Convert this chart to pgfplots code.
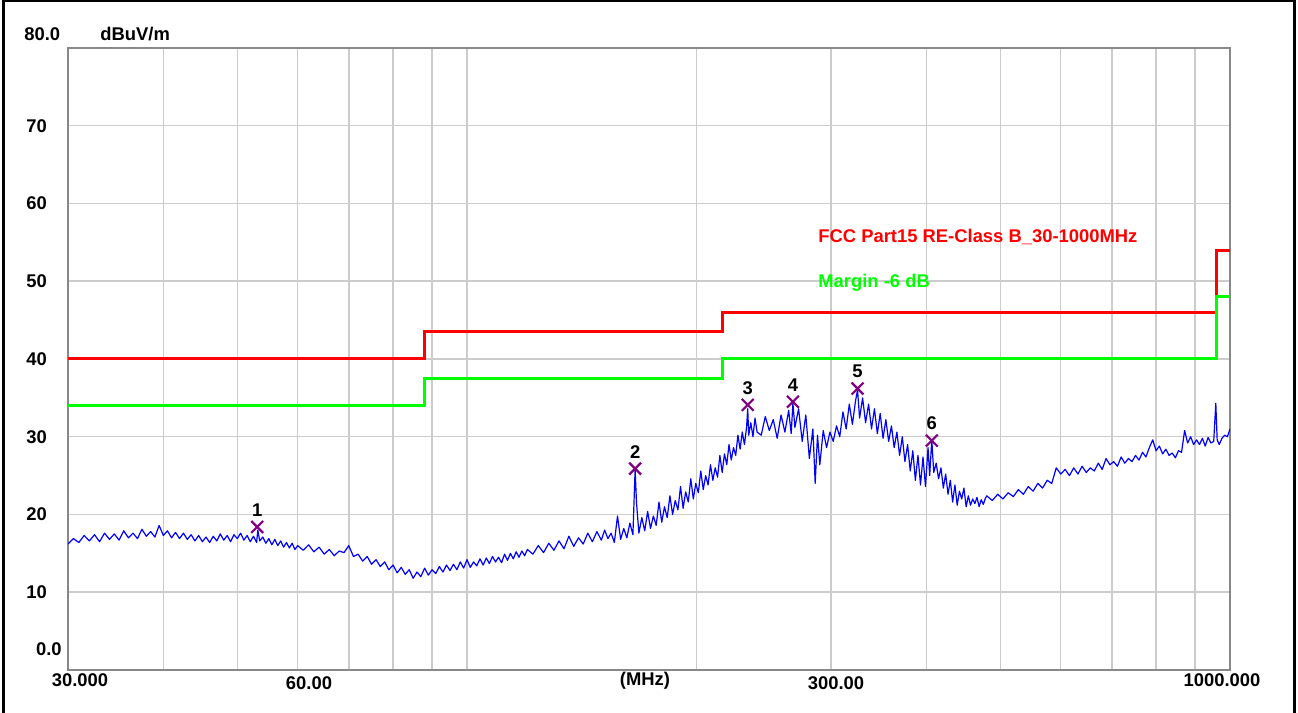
\documentclass[border=0pt]{standalone}
\usepackage{fontspec}
\setmainfont{Liberation Sans}
\usepackage{pgfplots}
\usepackage{pgfplotstable}
\pgfplotsset{compat=1.18}
\definecolor{trace}{RGB}{0,0,255}
\definecolor{limred}{RGB}{255,0,0}
\definecolor{limgreen}{RGB}{0,255,0}
\definecolor{mk}{RGB}{128,0,128}
\definecolor{framec}{RGB}{136,136,136}
\definecolor{gridc}{RGB}{204,204,204}
\newcommand\lbl{\fontsize{9.2}{11}\selectfont\bfseries}

\pgfplotstableread{
f v
30.0 16.2
30.5 16.9
31.0 16.4
31.5 17.3
32.0 16.6
32.5 17.4
33.0 16.5
33.5 17.6
34.0 16.8
34.5 17.5
35.0 16.7
35.5 17.9
36.0 17.0
36.5 17.6
37.0 16.9
37.5 18.1
38.0 17.2
38.5 17.8
39.0 17.1
39.5 18.6
40.0 17.3
40.5 17.9
41.0 17.0
41.5 17.7
42.0 16.9
42.5 17.6
43.0 16.8
43.5 17.4
44.0 16.6
44.5 17.3
45.0 16.5
45.5 17.1
46.0 16.4
46.5 17.2
47.0 16.6
47.5 17.5
48.0 16.7
48.5 17.3
49.0 16.5
49.5 17.4
50.0 16.9
50.5 17.6
51.0 16.7
51.5 17.3
52.0 16.5
52.5 17.2
53.0 16.4
53.2 18.0
53.5 16.6
54.0 17.1
54.5 16.3
55.0 16.9
55.5 16.1
56.0 16.8
56.5 16.0
57.0 16.6
57.5 15.8
58.0 16.4
58.5 15.7
59.0 16.3
59.5 15.5
60.0 16.0
61 15.4
62 16.1
63 15.2
64 15.8
65 14.9
66 15.5
67 14.7
68 15.3
69 15.1
70 16.0
71 14.6
72 14.9
73 14.0
74 14.6
75 13.6
76 14.2
77 13.3
78 13.9
79 12.9
80 13.5
81 12.5
82 13.2
83 12.3
84 12.9
85 11.8
86 12.6
87 12.0
88 13.1
89 12.2
90 12.9
91 12.4
92 13.3
93 12.6
94 13.5
95 12.8
96 13.6
97 12.9
98 13.9
99 13.1
100 14.2
101 13.2
102 13.9
103 13.4
104 14.3
105 13.5
106 14.4
107 13.7
108 14.6
109 13.9
110 14.5
111 13.8
112 14.9
113 14.1
114 15.0
115 14.3
116 15.2
117 14.5
118 15.3
119 14.7
120 15.5
122 14.9
124 16.0
126 15.1
128 16.3
130 15.4
132 16.6
134 15.6
136 17.2
138 15.9
140 17.0
142 16.2
144 17.6
146 16.5
148 17.8
150 16.7
151.5 18.0
153 16.9
154.5 17.6
156 16.4
157.5 19.8
159 16.8
160.5 18.2
162 17.0
163.5 18.9
165 17.4
166.1 25.8
166.8 21.5
168 17.6
169.5 19.6
171 17.9
172.5 20.4
174 18.2
175.5 19.8
177 18.6
178.5 21.6
180 19.0
181.5 21.0
183 19.6
184.5 22.4
186 20.0
187.5 21.8
189 20.6
190.5 23.6
192 20.8
193.5 22.9
195 21.6
196.5 24.6
198 22.0
199.5 24.0
201 22.8
202.5 25.6
204 23.2
205.5 25.0
207 23.8
208.5 26.4
210 24.4
211.5 26.0
213 24.8
214.5 27.6
216 25.4
217.5 27.8
219 26.4
220.5 29.0
222 27.0
223.5 28.6
225 27.6
226.5 30.2
228 28.4
229.5 30.6
231 29.0
232.5 31.2
233.3 33.6
234 30.2
235.5 31.8
237 30.0
238.5 32.4
240 30.6
243 30.2
246 32.6
249 30.8
252 32.2
255 29.8
258 32.8
261 30.6
264 33.4
266 30.4
267.4 34.3
269 31.2
272 33.6
275 29.4
278 32.8
281 27.2
284 31.0
286 24.0
288 30.2
290 26.4
293 30.8
296 28.6
299 30.6
302 29.4
305 31.4
308 30.0
311 33.2
314 31.0
317 34.2
320 31.6
323 34.6
325 36.0
327 32.4
330 35.0
333 31.8
336 34.2
339 31.0
342 33.6
345 30.4
348 33.0
351 29.8
354 32.2
357 29.4
360 31.4
363 28.6
366 30.6
369 27.6
372 30.0
375 26.8
378 29.0
381 25.6
384 28.2
387 24.4
390 27.6
393 23.8
396 27.4
399 23.6
402 28.6
404 25.0
406.6 29.6
409 25.4
412 26.6
415 24.6
418 26.0
421 23.4
424 25.2
427 22.6
430 24.4
433 21.6
436 23.8
439 21.2
442 23.0
445 22.0
448 23.4
451 21.0
454 22.4
457 21.2
460 22.0
463 21.4
466 22.2
469 21.0
472 21.9
475 21.3
478 22.1
480 22.4
488 21.8
496 22.6
504 22.0
512 22.8
520 22.3
528 23.2
536 22.6
544 23.6
552 23.0
560 24.0
568 23.4
576 24.4
584 24.0
592 26.0
600 25.2
608 25.8
616 25.0
624 26.0
632 25.2
640 26.2
648 25.4
656 26.0
664 25.6
672 26.6
680 25.8
688 27.2
696 26.4
704 26.8
712 26.2
720 27.4
728 26.6
736 27.2
744 26.8
752 27.6
760 27.0
768 28.0
776 27.4
784 28.6
792 29.6
800 28.2
808 28.8
816 27.8
824 28.4
832 27.6
840 27.9
848 27.3
856 28.2
864 28.0
872 30.8
880 29.2
888 30.0
896 29.0
904 29.6
912 29.0
920 29.8
928 28.8
936 29.9
944 29.2
952 29.4
958 34.3
962 29.6
968 29.0
976 29.8
984 30.2
992 30.0
1000 31.0
}\tracedata

\pgfplotstableread{
f v l
53.1 18.4 1
166.1 25.9 2
233.3 34.1 3
267.4 34.5 4
325 36.2 5
406.6 29.5 6
}\markers

\begin{document}
\begin{tikzpicture}
\useasboundingbox (0,0) rectangle (649pt,356.5pt);
\begin{axis}[
  at={(34pt,21.5pt)}, anchor=south west,
  scale only axis, width=581pt, height=311pt,
  xmode=log, xmin=30, xmax=1000, ymin=0, ymax=80,
  xtick={40,50,60,70,80,90,100,200,300,400,500,600,700,800,900},
  xticklabels={}, minor xtick={},
  ytick={10,20,30,40,50,60,70},
  yticklabels={10,20,30,40,50,60,70},
  yticklabel style={anchor=west, xshift=-21pt, inner sep=0pt, font=\lbl},
  major tick length=0pt, minor tick length=0pt,
  xmajorgrids, ymajorgrids,
  grid style={draw=gridc, line width=0.75pt},
  axis line style={draw=framec, line width=1.25pt},
]
\addplot[const plot, limred, line width=1.5pt] coordinates {(30,40) (88,43.5) (216,46) (960,54) (1000,54)};
\addplot[const plot, limgreen, line width=1.5pt] coordinates {(30,34) (88,37.5) (216,40) (960,48) (1000,48)};
\addplot[trace, line width=0.6pt, line join=round] table[x=f, y=v] {\tracedata};
\addplot[only marks, mark=x, mark size=4.2pt, mk, mark options={line width=1.1pt},
  nodes near coords, point meta=explicit symbolic,
  every node near coord/.append style={text=black, font=\lbl, anchor=center, yshift=8.5pt}]
  table[x=f, y=v, meta=l] {\markers};
\end{axis}
\draw[line width=1.25pt] (1.75pt,-5pt) -- (1.75pt,356.1pt) -- (647.25pt,356.1pt) -- (647.25pt,-5pt);
\node[anchor=west, inner sep=0pt] at (12pt,339.5pt) {\lbl 80.0};
\node[anchor=west, inner sep=0pt] at (50pt,339.5pt) {\lbl dBuV/m};
\node[anchor=east, inner sep=0pt] at (31pt,32pt) {\lbl 0.0};
\node[inner sep=0pt] at (40pt,16.5pt) {\lbl 30.000};
\node[inner sep=0pt] at (154.5pt,15pt) {\lbl 60.00};
\node[inner sep=0pt] at (322.5pt,16pt) {\lbl (MHz)};
\node[inner sep=0pt] at (418pt,15pt) {\lbl 300.00};
\node[inner sep=0pt] at (611pt,16.5pt) {\lbl 1000.000};
\node[anchor=west, inner sep=0pt, text=limred] at (409pt,238pt) {\lbl FCC Part15 RE-Class B\_30-1000MHz};
\node[anchor=west, inner sep=0pt, text=limgreen] at (409pt,215pt) {\lbl Margin -6 dB};
\end{tikzpicture}
\end{document}
